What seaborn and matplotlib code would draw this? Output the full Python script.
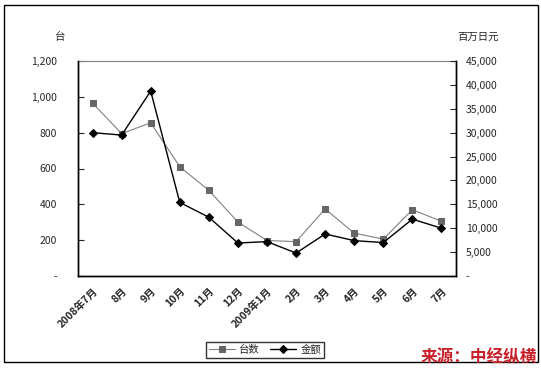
import numpy as np
import pandas as pd
import matplotlib
matplotlib.use('Agg')
import matplotlib.pyplot as plt
import seaborn as sns
from matplotlib.patches import Rectangle
from matplotlib.ticker import FuncFormatter
from matplotlib.transforms import ScaledTranslation

# dados
meses = ['2008年7月', '8月', '9月', '10月', '11月', '12月', '2009年1月',
         '2月', '3月', '4月', '5月', '6月', '7月']
taishu = [965, 795, 855, 610, 478, 301, 198, 192, 374, 239, 206, 370, 305]
kingaku = [30000, 29500, 38700, 15400, 12300, 6900, 7200, 4800, 8800, 7400, 7000, 11900, 10000]

df = pd.DataFrame({'x': np.arange(len(meses)), 'taishu': taishu, 'kingaku': kingaku})

sns.set_style('white')
plt.rcParams['font.family'] = ['Noto Sans CJK SC', 'DejaVu Sans']

fig = plt.figure(figsize=(5.41, 3.70), dpi=100)
ax = fig.add_axes([78/541, 94/370, 378/541, 215/370])
ax2 = ax.twinx()

sns.lineplot(data=df, x='x', y='taishu', ax=ax, color='#808080', linewidth=0.8,
             marker='s', markersize=5, markerfacecolor='#666666',
             markeredgecolor='#666666', label='台数', legend=False)
sns.lineplot(data=df, x='x', y='kingaku', ax=ax2, color='black', linewidth=1.0,
             marker='D', markersize=4, markerfacecolor='black',
             markeredgecolor='black', label='金额', legend=False)

ax.set_xlim(-0.5, len(meses) - 0.5)
ax.set_ylim(0, 1200)
ax2.set_ylim(0, 45000)
ax.set_yticks(range(0, 1201, 200))
ax2.set_yticks(range(0, 45001, 5000))

fmt = FuncFormatter(lambda v, p: '-' if v == 0 else f'{int(v):,}')
ax.yaxis.set_major_formatter(fmt)
ax2.yaxis.set_major_formatter(fmt)

ax.set_xticks(np.arange(len(meses)))
ax.set_xticklabels(meses, rotation=45, ha='right', rotation_mode='anchor',
                   fontsize=7.5, fontweight='bold')
# deslocar um pouco os rotulos para a esquerda
for lbl in ax.get_xticklabels():
    lbl.set_transform(lbl.get_transform() + ScaledTranslation(-4/100, 0, fig.dpi_scale_trans))
ax.set_xticks(np.arange(0.5, len(meses) - 1, 1), minor=True)
ax.tick_params(axis='x', which='major', length=0, pad=7)
ax.tick_params(axis='x', which='minor', direction='in', length=4, width=0.8, color='black')
ax.tick_params(axis='y', direction='in', length=4, width=0.8, labelsize=7.5, pad=15, left=True)
ax2.tick_params(axis='y', direction='in', length=4, width=0.8, labelsize=7.5, pad=7, right=True)

ax.set_xlabel('')
ax.set_ylabel('')
ax2.set_ylabel('')
for a in (ax, ax2):
    for s in ['left', 'right', 'bottom']:
        a.spines[s].set_color('black')
        a.spines[s].set_linewidth(1.0)
ax.spines['top'].set_color('#808080')
ax.spines['top'].set_linewidth(0.8)
ax2.spines['top'].set_visible(False)

fig.text(60/541, 1 - 37/370, '台', fontsize=7.5, ha='center', va='center')
fig.text(478/541, 1 - 37/370, '百万日元', fontsize=7.5, ha='center', va='center')

# legenda combinada
h1, l1 = ax.get_legend_handles_labels()
h2, l2 = ax2.get_legend_handles_labels()
leg = fig.legend(h1 + h2, l1 + l2, loc='center', bbox_to_anchor=(265/541, 1 - 350/370),
                 ncol=2, fontsize=7.5, frameon=True, fancybox=False, borderpad=0.3,
                 handlelength=2.5, columnspacing=1.0, handletextpad=0.4)
leg.get_frame().set_edgecolor('black')
leg.get_frame().set_linewidth(1.0)

# moldura externa
fig.patches.append(Rectangle((4/541, 8/370), 534/541, 357/370, transform=fig.transFigure,
                             fill=False, edgecolor='black', linewidth=1.0))

fig.text(537/541, 1 - 357/370, '来源：中经纵横', fontsize=12, fontweight='bold',
         color='#c8202a', ha='right', va='center')

fig.savefig('out.png', dpi=100)
